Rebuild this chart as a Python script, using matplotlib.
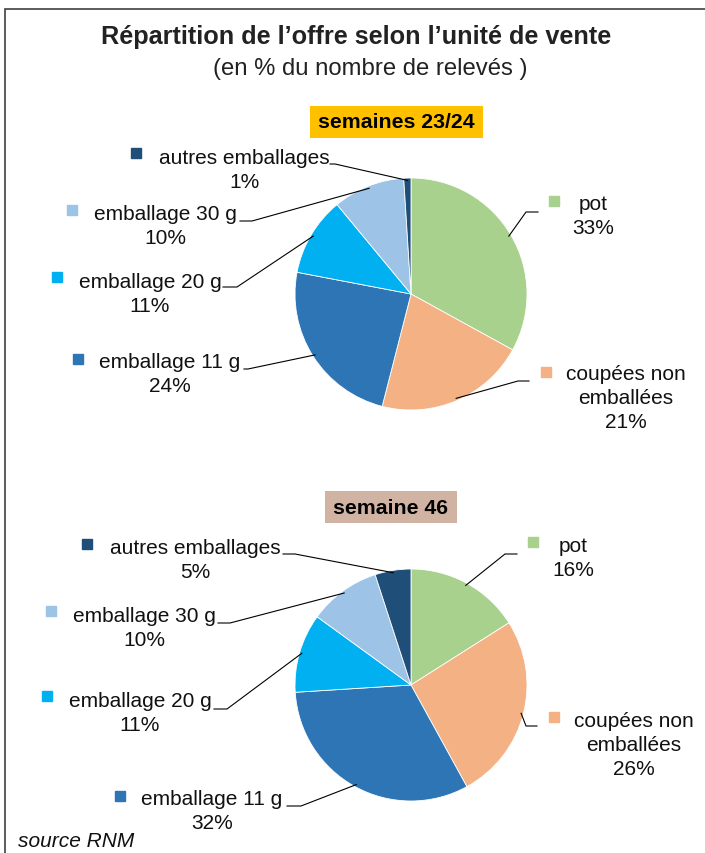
import numpy as np
import matplotlib.pyplot as plt
from matplotlib.patches import Rectangle

plt.rcParams['font.family'] = ['Liberation Sans', 'DejaVu Sans']

W, H = 705, 854

# data
categories = ["pot", "coupées non\nemballées", "emballage 11 g",
              "emballage 20 g", "emballage 30 g", "autres emballages"]
colors = ["#A9D18E", "#F4B183", "#2E75B6", "#00B0F0", "#9DC3E6", "#1F4E79"]
weeks_2324 = [33, 21, 24, 11, 10, 1]
week_46 = [16, 26, 32, 11, 10, 5]
headers = ["semaines 23/24", "semaine 46"]
header_colors = ["#FFC000", "#D1B3A3"]

# layout, in pixels from the top left corner
pie_centers = [(411, 295), (411, 686)]
pie_radius = 116
header_boxes = [(310, 107, 173, 32), (325, 492, 132, 32)]
# per slice: text centre of first line, marker, elbow, end of the leader
layout_1 = [
    ((593, 205), (554, 202), (526, 213), (538, 213)),
    ((626, 375), (546, 373), (518, 382), (529, 382)),
    ((170, 363), (78, 360), (248, 370), (244, 370)),
    ((150, 282), (57, 278), (237, 288), (223, 288)),
    ((165, 215), (72, 211), (252, 222), (240, 222)),
    ((244, 158), (136, 154), (335, 165), (330, 165)),
]
layout_2 = [
    ((573, 547), (533, 543), (505, 555), (517, 555)),
    ((634, 722), (554, 718), (526, 727), (537, 727)),
    ((212, 800), (120, 797), (301, 807), (287, 807)),
    ((140, 702), (47, 697), (227, 710), (214, 710)),
    ((144, 617), (51, 612), (230, 624), (218, 624)),
    ((195, 548), (87, 545), (295, 555), (283, 555)),
]


def Y(py):
    return H - py


fig = plt.figure(figsize=(W / 100, H / 100), dpi=100)
ax = fig.add_axes([0, 0, 1, 1])

for values, (cx, cy), lay, head, hcol, box in zip(
        [weeks_2324, week_46], pie_centers, [layout_1, layout_2],
        headers, header_colors, header_boxes):
    ax.pie(values, colors=colors, startangle=90, counterclock=False,
           center=(cx, Y(cy)), radius=pie_radius,
           wedgeprops=dict(edgecolor='white', linewidth=0.6))

    # leader lines, labels and markers
    frac = np.cumsum([0] + values[:-1]) + np.array(values) / 2.0
    angles = np.deg2rad(90 - frac / sum(values) * 360)
    for i, (name, v) in enumerate(zip(categories, values)):
        (tx, ty), (mx, my), (ex, ey), (fx, fy) = lay[i]
        sx = cx + 0.98 * pie_radius * np.cos(angles[i])
        sy = Y(cy) + 0.98 * pie_radius * np.sin(angles[i])
        ax.plot([sx, ex, fx], [sy, Y(ey), Y(fy)], color='black', lw=0.8,
                solid_joinstyle='miter')
        ax.plot(mx, Y(my), marker='s', markersize=7.8, color=colors[i],
                linestyle='None')
        lines = name.split("\n") + ["%d%%" % v]
        for k, line in enumerate(lines):
            ax.text(tx, Y(ty + 24 * k), line, ha='center', va='center',
                    fontsize=15, color='#111111')

    bx, by, bw, bh = box
    ax.add_patch(Rectangle((bx, Y(by + bh)), bw, bh, facecolor=hcol,
                           edgecolor='none'))
    ax.text(bx + bw / 2, Y(by + bh / 2), head, ha='center', va='center',
            fontsize=15.3, fontweight='bold', color='black')

ax.text(356, Y(37), "Répartition de l’offre selon l’unité de vente",
        ha='center', va='center', fontsize=18.2, fontweight='bold',
        color='#222222')
ax.text(370, Y(69), "(en % du nombre de relevés )", ha='center',
        va='center', fontsize=17.2, color='#222222')
ax.text(18, Y(842), "source RNM", ha='left', va='center', fontsize=15,
        style='italic', color='#111111')

# frame round the whole chart
ax.add_patch(Rectangle((5, Y(870)), 720, 860, facecolor='none',
                       edgecolor='#404040', linewidth=1.2))

ax.set_xlim(0, W)
ax.set_ylim(0, H)
ax.set_aspect('equal')
ax.axis('off')

plt.savefig('out.png', dpi=100)
